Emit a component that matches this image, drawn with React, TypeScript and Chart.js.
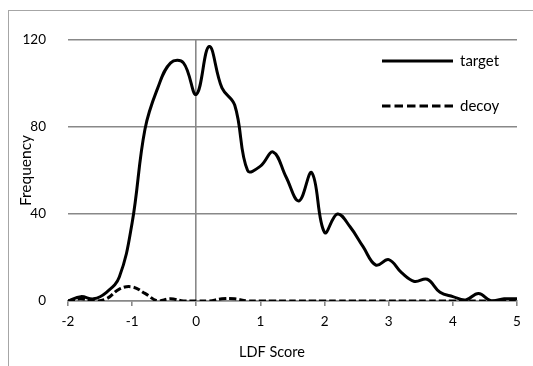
import React, { useEffect, useRef } from "react";
import { Chart, registerables } from "chart.js";

Chart.register(...registerables);

const xValues = [
  -2, -1.8, -1.6, -1.4, -1.2, -1, -0.8, -0.6, -0.4, -0.2, 0, 0.2, 0.4, 0.6, 0.8, 1, 1.2, 1.4,
  1.6, 1.8, 2, 2.2, 2.4, 2.6, 2.8, 3, 3.2, 3.4, 3.6, 3.8, 4, 4.2, 4.4, 4.6, 4.8, 5,
];
const targetValues = [
  0, 2, 1, 4, 11, 36, 79, 98, 109.5, 109.5, 95, 117, 98, 90, 60, 62, 68.5, 57,
  46, 59, 31.5, 40, 34, 25, 16.5, 19, 13, 9, 10, 4, 2, 0.5, 3.5, 0, 1, 1,
];
const decoyValues = [
  0, 1, 0, 1, 5.5, 6.5, 3.5, 0, 1, 0, 0, 0, 1, 1, 0, 0, 0, 0,
  0, 0, 0, 0, 0, 0, 0, 0, 0, 0, 0, 0, 0, 0, 0, 0, 0, 0,
];
const seriesLabels = ["target", "decoy"];
const xTitle = "LDF Score";
const yTitle = "Frequency";

const FONT = "Lato, 'Liberation Sans', sans-serif";
const GRID = "#888888";

const framePlugin = {
  id: "frame",
  beforeDraw(chart: any) {
    const ctx = chart.ctx;
    ctx.save();
    ctx.strokeStyle = "#a6a6a6";
    ctx.lineWidth = 1;
    ctx.strokeRect(8.5, 10.5, 700, 700);
    ctx.restore();
  },
};

const textPlugin = {
  id: "customText",
  afterDraw(chart: any) {
    const ctx = chart.ctx;
    const ds = chart.data.datasets;
    const x0 = 382;
    const x1 = 453;
    const ys = [61, 106];
    ctx.save();
    ds.forEach((d: any, i: number) => {
      const y = ys[i];
      ctx.beginPath();
      ctx.strokeStyle = d.borderColor;
      ctx.lineWidth = 3;
      ctx.setLineDash(d.borderDash && d.borderDash.length ? [8.5, 4] : []);
      ctx.moveTo(x0, y);
      ctx.lineTo(x1, y);
      ctx.stroke();
      ctx.setLineDash([]);
      ctx.fillStyle = "#000";
      ctx.font = `15px ${FONT}`;
      ctx.textAlign = "left";
      ctx.textBaseline = "middle";
      ctx.fillText(d.label, x1 + 7, y);
    });
    // x axis title, centred as in the original figure
    ctx.fillStyle = "#000";
    ctx.font = `14.5px ${FONT}`;
    ctx.textAlign = "center";
    ctx.textBaseline = "middle";
    ctx.fillText(xTitle, 272, 352);
    ctx.restore();
  },
};

export default function App() {
  const ref = useRef<HTMLCanvasElement | null>(null);
  useEffect(() => {
    if (!ref.current) return;
    const chart = new Chart(ref.current, {
      type: "line",
      data: {
        datasets: [
          {
            label: seriesLabels[0],
            data: xValues.map((x, i) => ({ x, y: targetValues[i] })),
            borderColor: "#000",
            borderWidth: 3,
            pointRadius: 0,
            tension: 0.4,
            fill: false,
          },
          {
            label: seriesLabels[1],
            data: xValues.map((x, i) => ({ x, y: decoyValues[i] })),
            borderColor: "#000",
            borderWidth: 3,
            borderDash: [7, 3],
            pointRadius: 0,
            tension: 0.4,
            fill: false,
          },
        ],
      },
      options: {
        responsive: false,
        animation: false,
        layout: { padding: { top: 40, right: 16, left: 0, bottom: 0 } },
        plugins: { legend: { display: false }, tooltip: { enabled: false } },
        scales: {
          x: {
            type: "linear",
            min: -2,
            max: 5,
            afterFit: (s: any) => {
              s.height = 65;
            },
            ticks: {
              stepSize: 1,
              color: "#000",
              padding: 8,
              maxRotation: 0,
              font: { family: FONT, size: 13.5 },
            },
            grid: {
              color: (c: any) => (c.tick && c.tick.value === 0 ? GRID : "rgba(0,0,0,0)"),
              tickColor: GRID,
              tickLength: 5,
              lineWidth: 1.6,
            },
            border: { display: true, color: GRID, width: 1.6 },
            title: { display: false, text: xTitle },
          },
          y: {
            min: 0,
            max: 120,
            afterFit: (s: any) => {
              s.width = 68;
            },
            ticks: {
              stepSize: 40,
              color: "#000",
              padding: 22,
              font: { family: FONT, size: 13.5 },
            },
            grid: { color: GRID, lineWidth: 1.6, drawTicks: false },
            border: { display: false },
            title: {
              display: true,
              text: yTitle,
              color: "#000",
              font: { family: FONT, size: 15.5 },
              padding: { top: 17, bottom: 0 },
            },
          },
        },
      },
      plugins: [framePlugin, textPlugin],
    });
    return () => chart.destroy();
  }, []);
  return (
    <div style={{ position: "absolute", left: 0, top: 0, width: 533, height: 366 }}>
      <canvas ref={ref} width={533} height={366} style={{ display: "block" }} />
    </div>
  );
}
